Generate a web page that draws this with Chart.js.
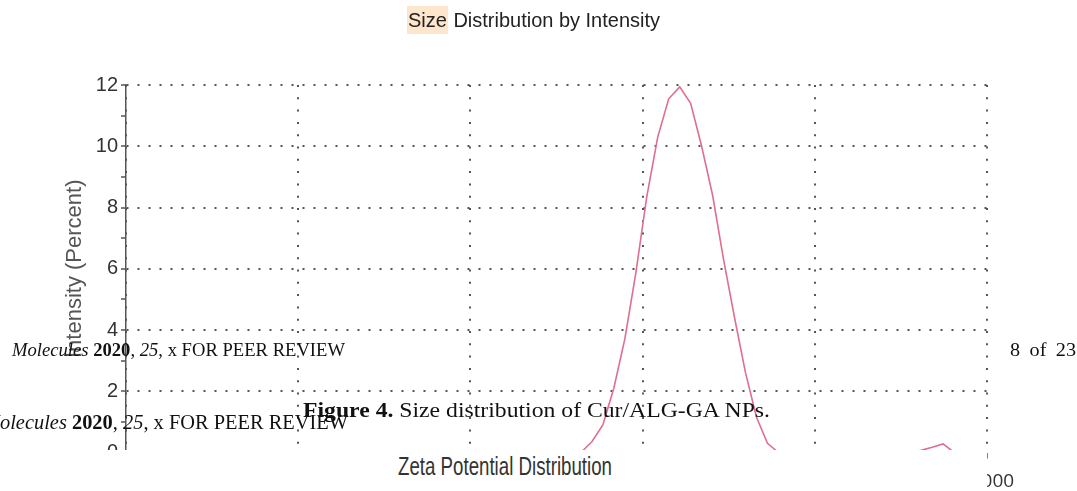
<!DOCTYPE html>
<html>
<head>
<meta charset="utf-8">
<script src="https://cdn.jsdelivr.net/npm/chart.js@4.4.1/dist/chart.umd.min.js"></script>
<style>
  body { margin: 0; background: #fff; }
  #wrap { position: relative; width: 1077px; height: 491px; overflow: hidden; background: #fff; }
  #chart { position: absolute; left: 0; top: 0; }
  .txt { position: absolute; white-space: nowrap; line-height: 1; transform-origin: 0 0; }
  .serif { font-family: "Liberation Serif", "DejaVu Serif", serif; color: #111; }
  .sans { font-family: "Liberation Sans", Arial, sans-serif; }
  .hl { background: rgba(250, 200, 140, 0.45); padding: 3px 1px; }
  #cover { position: absolute; left: 0; top: 450px; width: 987px; height: 41px; background: #fff; }
</style>
</head>
<body>
<div id="wrap">
  <canvas id="chart" width="1077" height="491"></canvas>
  <div class="txt sans" id="title" style="left:407px; top:10px; font-size:20px; color:#222;"><span class="hl">Size</span> Distribution by Intensity</div>
  <div class="txt serif" id="hdr1" style="left:12px; top:341px; font-size:18.5px;"><i>Molecules</i> <b>2020</b>, <i>25</i>, x FOR PEER REVIEW</div>
  <div class="txt serif" id="page" style="left:1010px; top:341px; font-size:18.5px; word-spacing:4px;">8 of 23</div>
  <div class="txt serif" id="caption" style="left:303px; top:398.5px; font-size:22px;"><b>Figure 4.</b> Size distribution of Cur/ALG-GA NPs.</div>
  <div class="txt serif" id="hdr2" style="left:-17px; top:412px; font-size:20.5px;"><i>Molecules</i> <b>2020</b>, <i>25</i>, x FOR PEER REVIEW</div>
  <div id="cover"></div>
  <div class="txt sans" id="zeta" style="left:398px; top:454px; font-size:25px; color:#333;">Zeta Potential Distribution</div>
</div>
<script>
// size bins (d.nm) and intensity (%)
const sizes = [0.4, 0.4632, 0.5365, 0.6213, 0.7195, 0.8332, 0.9649, 1.117, 1.294, 1.499,
  1.736, 2.01, 2.328, 2.696, 3.122, 3.615, 4.187, 4.849, 5.615, 6.503,
  7.531, 8.721, 10.1, 11.7, 13.54, 15.69, 18.17, 21.04, 24.36, 28.21,
  32.67, 37.84, 43.82, 50.75, 58.77, 68.06, 78.82, 91.28, 105.7, 122.4,
  141.8, 164.2, 190.1, 220.2, 255, 295.3, 342, 396.1, 458.7, 531.2,
  615.1, 712.4, 825, 955.4, 1106, 1281, 1484, 1718, 1990, 2305,
  2669, 3091, 3580, 4145, 4801, 5560, 6439, 7456, 8635, 10000];
const intensity = [0, 0, 0, 0, 0, 0, 0, 0, 0, 0,
  0, 0, 0, 0, 0, 0, 0, 0, 0, 0,
  0, 0, 0, 0, 0, 0, 0, 0, 0, 0,
  0, 0, 0, 0.35, 0.9, 2.1, 3.7, 5.85, 8.35, 10.3,
  11.55, 11.94, 11.4, 10.0, 8.4, 6.3, 4.4, 2.6, 1.15, 0.3,
  0, 0, 0, 0, 0, 0, 0, 0, 0, 0,
  0, 0, 0, 0.07, 0.17, 0.28, 0, 0, 0, 0];
const xTickValues = [0.1, 1, 10, 100, 1000, 10000];
const xTickLabels = ["0.1", "1", "10", "100", "1000", "10000"];
const yTickValues = [0, 2, 4, 6, 8, 10, 12];
const yTitle = "Intensity (Percent)";

function fit(id, w) {
  const el = document.getElementById(id);
  el.style.transform = "scaleX(" + (w / el.getBoundingClientRect().width) + ")";
}
fit("title", 253);
fit("hdr1", 333);
fit("page", 66);
fit("caption", 467);
fit("hdr2", 365);
fit("zeta", 214);

const ctx = document.getElementById("chart").getContext("2d");
new Chart(ctx, {
  type: "line",
  data: {
    datasets: [{
      data: sizes.map((s, i) => ({ x: s, y: intensity[i] })),
      borderColor: "#df6f8d",
      borderWidth: 1.6,
      pointRadius: 0,
      tension: 0,
      fill: false,
    }],
  },
  options: {
    responsive: false,
    animation: false,
    devicePixelRatio: 1,
    layout: { padding: { top: 85, right: 90, bottom: 0, left: 55 } },
    plugins: { legend: { display: false }, tooltip: { enabled: false } },
    scales: {
      x: {
        type: "logarithmic",
        min: 0.1,
        max: 10000,
        afterBuildTicks: (scale) => { scale.ticks = xTickValues.map((v) => ({ value: v })); },
        afterFit: (scale) => { scale.height = 38.5; },
        ticks: {
          autoSkip: false,
          maxRotation: 0,
          padding: 12,
          color: "#333",
          font: { family: "'Open Sans', sans-serif", size: 19 },
          callback: (v, i) => xTickLabels[i],
        },
        grid: { color: "#555", lineWidth: 2, tickLength: 6, tickColor: "#555", tickWidth: 1.5 },
        border: { display: false, dash: [2, 10.3] },
      },
      y: {
        min: 0,
        max: 12,
        afterFit: (scale) => { scale.width = 71; },
        ticks: {
          stepSize: 1,
          autoSkip: false,
          padding: 3,
          color: "#333",
          font: { family: "'Liberation Sans', Arial, sans-serif", size: 20 },
          callback: (v) => (yTickValues.includes(v) ? String(v) : ""),
        },
        grid: {
          color: (c) => (c.tick && yTickValues.includes(c.tick.value) ? "#555" : "rgba(0,0,0,0)"),
          lineWidth: 2,
          tickLength: 5,
          tickColor: "#555",
          tickWidth: 1.5,
        },
        border: { color: "#555", width: 1.5, dash: [2, 9] },
        title: {
          display: true,
          text: yTitle,
          color: "#555",
          font: { family: "'Liberation Sans', Arial, sans-serif", size: 22 },
          padding: { top: 7, bottom: 0 },
        },
      },
    },
  },
});
</script>
</body>
</html>
